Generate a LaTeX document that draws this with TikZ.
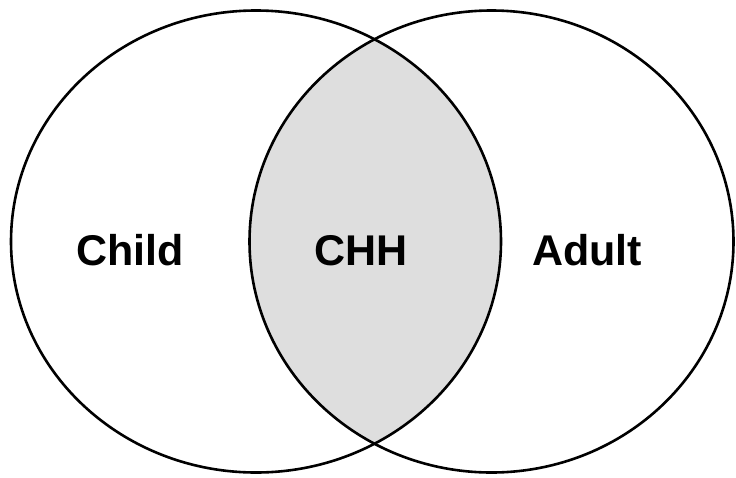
\documentclass[tikz,border=0pt]{standalone}
\usepackage{fontspec}
\setmainfont{Liberation Sans}
\begin{document}
\begin{tikzpicture}[x=1pt,y=-1pt,
  setring/.style={draw=black,line width=2.6pt},
  setlabel/.style={font=\fontsize{43}{50}\selectfont\bfseries,inner sep=0pt,anchor=base}]
\useasboundingbox (0,0) rectangle (736,477);
\fill[white] (0,0) rectangle (736,477);
% shared region of the two sets
\begin{scope}
  \clip (256,241.5) ellipse [x radius=245, y radius=231];
  \fill[black!13] (491.5,241.5) ellipse [x radius=242, y radius=231];
\end{scope}
\draw[setring] (256,241.5) ellipse [x radius=245, y radius=231];
\draw[setring] (491.5,241.5) ellipse [x radius=242, y radius=231];
\node[setlabel] (child) at (130,265) {Child};
\node[setlabel] (chh) at (361,265) {CHH};
\node[setlabel] (adult) at (587,265) {Adult};
\end{tikzpicture}
\end{document}
